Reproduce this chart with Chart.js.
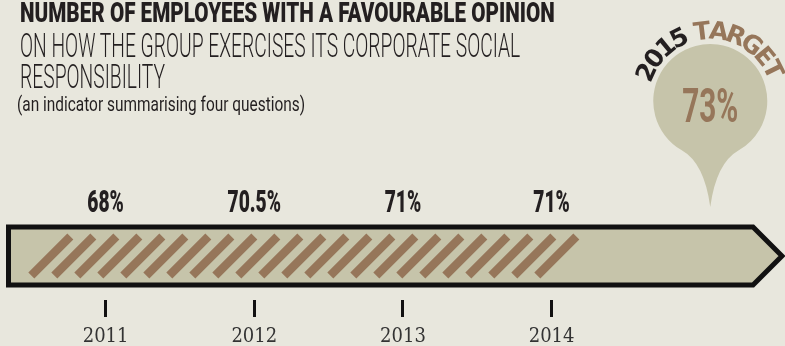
<!DOCTYPE html>
<html>
<head>
<meta charset="utf-8">
<script src="https://cdn.jsdelivr.net/npm/chart.js@4"></script>
<style>
  html, body { margin: 0; padding: 0; background: #e8e7dd; }
  #wrap { position: relative; width: 785px; height: 346px; overflow: hidden; }
  #wrap canvas { position: absolute; left: 0; top: 0; }
  .hd { position: absolute; left: 20px; white-space: nowrap; transform-origin: 0 0; font-family: Roboto, sans-serif; color: #231f20; }
  .l1 { top: 0px; font-size: 27px; line-height: 27px; font-weight: 900; }
  .l2 { top: 28px; font-size: 34px; line-height: 34px; font-weight: 300; }
  .l3 { top: 59px; font-size: 34px; line-height: 34px; font-weight: 300; }
  .l4 { top: 94px; left: 17px; font-size: 21px; line-height: 21px; font-weight: 400; }
</style>
</head>
<body>
<div id="wrap">
  <canvas id="myChart"></canvas>
  <div class="hd l1" data-w="535">NUMBER OF EMPLOYEES WITH A FAVOURABLE OPINION</div>
  <div class="hd l2" data-w="500">ON HOW THE GROUP EXERCISES ITS CORPORATE SOCIAL</div>
  <div class="hd l3" data-same="l2">RESPONSIBILITY</div>
  <div class="hd l4" data-w="288">(an indicator summarising four questions)</div>
</div>
<script>
const years = [2011, 2012, 2013, 2014];
const scores = [68, 70.5, 71, 71];
const yearLabels = ['2011', '2012', '2013', '2014'];
const targetYear = 2015;
const targetScore = 73;
const progressSpan = [2010.48, 2014.2];

const BROWN = '#96765a';
const KHAKI = '#c6c4aa';
const INK = '#231f20';

// squeeze the heading lines to their column widths
function fitHeadings() {
  const scales = {};
  document.querySelectorAll('.hd[data-w]').forEach(el => {
    const s = Number(el.dataset.w) / el.offsetWidth;
    el.style.transform = 'scaleX(' + s + ')';
    scales[el.classList[1]] = s;
  });
  document.querySelectorAll('.hd[data-same]').forEach(el => {
    el.style.transform = 'scaleX(' + scales[el.dataset.same] + ')';
  });
}

function condensedText(ctx, text, x, y, sx) {
  ctx.save();
  ctx.translate(x, y);
  ctx.scale(sx, 1);
  ctx.fillText(text, 0, 0);
  ctx.restore();
}

const timelinePlugin = {
  id: 'timeline',
  beforeDatasetsDraw(chart) {
    const ctx = chart.ctx;
    const x = chart.scales.x;
    const bar = chart.getDatasetMeta(0).data[0];
    const cy = bar.y;
    const left = x.left + 2.5, right = x.right - 3;
    ctx.save();
    ctx.beginPath();
    ctx.moveTo(left, cy - 29);
    ctx.lineTo(right - 29, cy - 29);
    ctx.lineTo(right, cy);
    ctx.lineTo(right - 29, cy + 29);
    ctx.lineTo(left, cy + 29);
    ctx.closePath();
    ctx.fillStyle = KHAKI;
    ctx.fill();
    ctx.lineWidth = 5;
    ctx.lineJoin = 'miter';
    ctx.strokeStyle = '#111';
    ctx.stroke();
    ctx.restore();
  },
  afterDatasetsDraw(chart) {
    const ctx = chart.ctx;
    const bar = chart.getDatasetMeta(0).data[0];
    const inset = 3;
    const yb = bar.y + bar.height / 2 - inset;
    const yt = bar.y - bar.height / 2 + inset;
    const run = yb - yt;
    ctx.save();
    ctx.strokeStyle = BROWN;
    ctx.lineWidth = 8.5;
    ctx.lineCap = 'butt';
    for (let x0 = bar.base + inset; x0 + run + inset <= bar.x + 0.5; x0 += 23) {
      ctx.beginPath();
      ctx.moveTo(x0, yb);
      ctx.lineTo(x0 + run, yt);
      ctx.stroke();
    }
    ctx.restore();
  },
  afterDraw(chart) {
    const ctx = chart.ctx;
    const x = chart.scales.x;
    const area = chart.chartArea;

    // yearly values above the bar
    ctx.save();
    ctx.fillStyle = INK;
    ctx.font = '900 31px Roboto';
    ctx.textAlign = 'center';
    ctx.textBaseline = 'alphabetic';
    scores.forEach((v, i) => {
      condensedText(ctx, v + '%', x.getPixelForValue(years[i]), area.top, 0.62);
    });
    ctx.restore();

    // target pin
    const cx = x.getPixelForValue(targetYear) + 10;
    const cy = 101, r = 57, tipY = 207;
    const a1 = Math.PI * 2 / 3, a2 = Math.PI / 3;
    ctx.save();
    ctx.fillStyle = KHAKI;
    ctx.beginPath();
    ctx.moveTo(cx, tipY);
    ctx.quadraticCurveTo(cx - 6, cy + 62, cx + r * Math.cos(a1), cy + r * Math.sin(a1));
    ctx.arc(cx, cy, r, a1, a2, false);
    ctx.quadraticCurveTo(cx + 6, cy + 62, cx, tipY);
    ctx.closePath();
    ctx.fill();

    ctx.fillStyle = BROWN;
    ctx.font = '700 48px Roboto';
    ctx.textAlign = 'center';
    ctx.textBaseline = 'alphabetic';
    condensedText(ctx, targetScore + '%', cx, cy + 21, 0.62);

    // curved caption over the pin
    const parts = [[String(targetYear) + ' ', INK], ['TARGET', BROWN]];
    const rad = 62, advR = 76;
    ctx.font = 'bold 25px "DejaVu Sans"';
    ctx.textAlign = 'center';
    let total = 0;
    parts.forEach(p => { for (const ch of p[0]) total += ctx.measureText(ch).width; });
    let ang = -Math.PI / 2 - 0.02 - total / advR / 2;
    parts.forEach(p => {
      ctx.fillStyle = p[1];
      for (const ch of p[0]) {
        const w = ctx.measureText(ch).width;
        const mid = ang + w / advR / 2;
        ctx.save();
        ctx.translate(cx + rad * Math.cos(mid), cy + rad * Math.sin(mid));
        ctx.rotate(mid + Math.PI / 2);
        ctx.fillText(ch, 0, 0);
        ctx.restore();
        ang += w / advR;
      }
    });
    ctx.restore();
  }
};

function createChart() {
  const ctx = document.getElementById('myChart');
  ctx.width = 785;
  ctx.height = 346;
  new Chart(ctx, {
    type: 'bar',
    data: {
      labels: ['progress'],
      datasets: [{
        data: [progressSpan],
        backgroundColor: 'rgba(0,0,0,0)',
        borderWidth: 0,
        barThickness: 45
      }]
    },
    options: {
      indexAxis: 'y',
      responsive: false,
      animation: false,
      layout: { padding: { left: 6, right: 0, top: 212, bottom: 0 } },
      plugins: { legend: { display: false }, tooltip: { enabled: false } },
      scales: {
        x: {
          type: 'linear',
          min: 2010.33,
          max: 2015.57,
          afterBuildTicks: scale => { scale.ticks = years.map(v => ({ value: v })); },
          afterFit: scale => { scale.height = 46; },
          ticks: {
            callback: (v) => yearLabels[years.indexOf(v)],
            color: '#333',
            padding: 8,
            maxRotation: 0,
            autoSkip: false,
            font: { family: '"DejaVu Serif Condensed", "DejaVu Serif", serif', size: 20 }
          },
          grid: { drawOnChartArea: false, drawTicks: true, tickLength: 17, color: '#111', lineWidth: 3 },
          border: { display: false }
        },
        y: { display: false }
      }
    },
    plugins: [timelinePlugin]
  });
}

document.fonts.ready.then(() => {
  fitHeadings();
  createChart();
});
</script>
</body>
</html>
